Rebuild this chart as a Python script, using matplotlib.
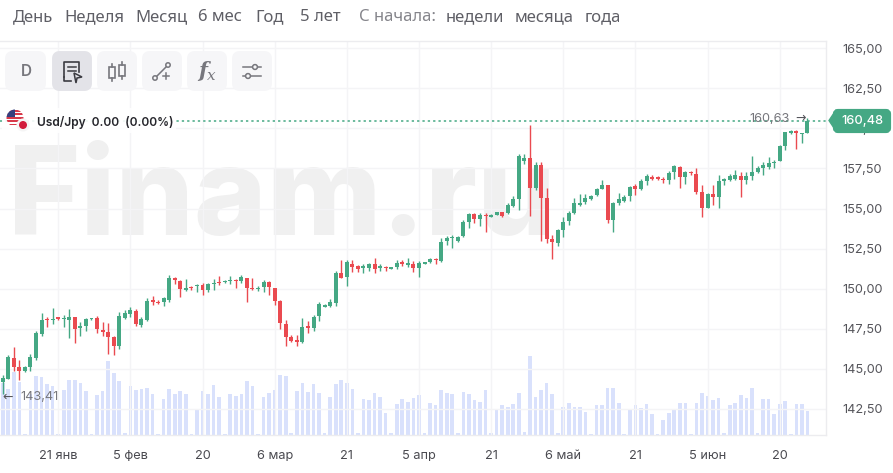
import matplotlib
matplotlib.use('Agg')
import matplotlib.pyplot as plt
from matplotlib.patches import Circle, FancyBboxPatch, Polygon, Rectangle

# Daily Usd/Jpy candles
opens = [144.15, 144.37, 145.69, 145.10, 144.85, 145.10, 145.69, 147.19, 148.10, 148.02,
         148.23, 148.10, 148.06, 148.23, 147.56, 147.67, 148.08, 148.19, 147.42, 147.29,
         146.98, 146.42, 148.19, 148.44, 148.60, 147.75, 148.06, 149.27, 149.19, 149.19,
         149.27, 150.67, 150.48, 149.94, 150.10, 150.15, 150.23, 149.90, 150.27, 150.42,
         150.42, 150.48, 150.52, 150.48, 150.65, 150.02, 150.00, 150.10, 150.44, 150.02,
         149.23, 147.81, 146.96, 146.77, 146.67, 147.65, 147.56, 148.27, 148.87, 148.94,
         149.10, 150.98, 150.73, 151.56, 151.40, 151.31, 151.29, 151.52, 151.31, 151.37,
         151.25, 151.33, 151.67, 151.46, 151.52, 151.31, 151.54, 151.69, 151.85, 151.73,
         152.98, 153.19, 152.98, 153.27, 154.19, 154.65, 154.35, 154.60, 154.50, 154.60,
         154.79, 154.73, 155.18, 155.62, 157.95, 158.18, 156.31, 157.70, 155.68, 153.08,
         152.87, 153.64, 154.20, 154.74, 155.20, 155.39, 155.60, 155.85, 156.21, 156.46,
         154.27, 155.35, 155.50, 155.77, 156.39, 156.23, 156.71, 156.96, 156.98, 156.87,
         156.77, 157.27, 157.62, 156.94, 157.27, 157.14, 156.06, 155.06, 155.90, 155.71,
         156.73, 156.77, 156.85, 157.06, 156.79, 157.06, 157.27, 157.54, 157.60, 157.85,
         157.96, 158.90, 159.69, 159.87, 159.65, 159.69]
closes = [144.44, 145.73, 145.10, 144.85, 145.10, 145.73, 147.23, 148.06, 148.02, 148.10,
          148.10, 148.19, 148.23, 147.50, 147.69, 148.10, 148.15, 147.48, 147.31, 146.98,
          146.44, 148.31, 148.48, 148.65, 147.77, 148.08, 149.23, 149.14, 149.10, 149.40,
          150.67, 150.52, 149.96, 150.06, 150.02, 150.23, 149.90, 150.27, 150.35, 150.33,
          150.48, 150.56, 150.46, 150.73, 150.04, 149.96, 150.06, 150.42, 150.10, 149.23,
          147.85, 146.98, 146.73, 146.69, 147.60, 147.56, 148.23, 149.02, 148.96, 149.15,
          150.98, 150.69, 151.65, 151.35, 151.25, 151.40, 151.52, 151.25, 151.44, 151.27,
          151.33, 151.62, 151.52, 151.60, 151.27, 151.60, 151.65, 151.83, 151.81, 152.94,
          153.17, 153.25, 153.23, 154.19, 154.65, 154.37, 154.60, 154.56, 154.58, 154.77,
          154.56, 155.21, 155.62, 158.27, 158.18, 156.31, 157.74, 155.68, 153.12, 152.93,
          153.64, 154.16, 154.74, 155.35, 155.35, 155.68, 155.81, 156.22, 156.46, 154.27,
          155.35, 155.60, 155.73, 156.35, 156.25, 156.69, 157.00, 156.85, 156.85, 156.77,
          157.23, 157.65, 156.94, 157.27, 157.19, 156.06, 155.06, 155.90, 155.71, 156.69,
          156.83, 157.02, 157.10, 156.77, 157.06, 157.31, 157.52, 157.71, 157.85, 157.90,
          158.90, 159.75, 159.87, 159.71, 159.71, 160.48]
highs = [144.58, 145.83, 146.35, 145.56, 145.19, 145.90, 147.33, 148.48, 148.23, 148.79,
         148.23, 148.33, 148.71, 148.23, 147.92, 148.19, 148.19, 148.31, 147.92, 147.85,
         147.06, 148.54, 148.65, 148.85, 148.75, 148.23, 149.44, 149.56, 149.27, 149.48,
         150.83, 150.73, 150.52, 150.58, 150.19, 150.27, 150.37, 150.35, 150.62, 150.77,
         150.52, 150.81, 150.62, 150.83, 150.67, 150.67, 150.15, 150.52, 150.48, 150.06,
         149.27, 148.02, 147.08, 147.08, 148.17, 147.98, 148.33, 149.17, 149.06, 149.33,
         151.08, 151.77, 151.81, 151.77, 151.46, 151.52, 151.62, 151.94, 151.56, 151.44,
         151.35, 151.77, 151.77, 151.94, 151.73, 151.73, 151.67, 151.92, 151.94, 153.19,
         153.31, 153.33, 153.31, 154.31, 154.73, 154.73, 154.69, 154.69, 154.65, 154.81,
         154.81, 155.35, 155.79, 158.43, 158.43, 160.20, 157.91, 157.91, 156.31, 153.33,
         153.74, 154.47, 154.85, 155.66, 155.89, 155.89, 155.83, 156.31, 156.77, 156.46,
         155.42, 155.98, 155.83, 156.39, 156.56, 156.85, 157.14, 157.08, 157.02, 156.98,
         157.35, 157.71, 157.65, 157.35, 157.35, 157.50, 156.46, 155.94, 156.46, 157.08,
         156.92, 157.14, 157.39, 157.31, 157.29, 158.27, 157.65, 157.92, 158.19, 158.06,
         158.96, 159.79, 159.90, 159.90, 159.73, 160.63]
lows = [143.41, 144.37, 144.85, 144.31, 144.77, 144.85, 145.56, 147.06, 147.60, 147.77,
        148.02, 147.60, 146.92, 146.60, 147.06, 147.35, 148.02, 147.23, 147.06, 145.94,
        145.87, 146.23, 148.12, 148.23, 147.67, 147.60, 147.96, 148.96, 149.02, 148.90,
        149.19, 150.31, 149.48, 149.85, 149.90, 149.79, 149.60, 149.79, 149.94, 150.23,
        150.35, 150.31, 150.04, 150.35, 149.19, 149.90, 149.85, 149.77, 149.60, 148.98,
        147.50, 146.40, 146.65, 146.40, 146.60, 147.23, 147.35, 147.98, 148.85, 148.85,
        148.90, 150.69, 150.19, 151.02, 151.04, 150.98, 151.12, 150.98, 151.10, 151.12,
        151.21, 151.21, 151.40, 151.35, 151.04, 150.73, 151.52, 151.60, 151.52, 151.69,
        152.73, 152.52, 152.94, 153.23, 153.81, 154.10, 153.94, 153.54, 154.44, 154.58,
        154.48, 154.65, 155.10, 154.89, 157.81, 154.52, 156.14, 152.95, 152.85, 151.83,
        152.68, 153.22, 153.95, 154.64, 155.14, 155.31, 155.56, 155.77, 156.19, 154.10,
        153.56, 155.19, 155.42, 155.44, 155.85, 156.15, 156.46, 156.77, 156.77, 156.60,
        156.52, 156.85, 156.29, 156.52, 157.08, 155.89, 154.48, 155.02, 155.25, 155.06,
        156.46, 156.71, 156.77, 155.69, 156.52, 156.77, 157.19, 157.08, 157.46, 157.52,
        157.94, 158.65, 159.65, 158.71, 159.12, 159.69]
volumes = [155, 138, 188, 158, 4, 123, 176, 173, 154, 146, 4, 135, 165, 165, 157, 131, 4, 120,
           131, 221, 187, 161, 6, 146, 135, 139, 142, 124, 4, 109, 139, 124, 131, 124, 4, 79,
           131, 124, 150, 113, 4, 124, 116, 124, 161, 146, 4, 113, 127, 135, 180, 176, 6, 131,
           156, 130, 153, 126, 6, 115, 153, 164, 156, 138, 6, 108, 104, 126, 115, 66, 6, 93,
           108, 100, 111, 119, 6, 96, 89, 134, 126, 123, 6, 130, 123, 104, 100, 134, 6, 78,
           89, 85, 93, 126, 10, 236, 115, 134, 156, 123, 6, 85, 96, 85, 85, 70, 4, 89,
           90, 142, 142, 97, 4, 75, 90, 82, 93, 64, 4, 45, 67, 79, 97, 97, 4, 97,
           127, 116, 105, 112, 7, 90, 97, 120, 112, 142, 7, 109, 109, 64, 93, 101, 4, 93,
           93, 71]

date_ticks = [10, 23, 36, 49, 62, 75, 88, 101, 114, 127, 140]
date_labels = ['21 янв', '5 фев', '20', '6 мар', '21', '5 апр', '21', '6 май', '21', '5 июн', '20']
price_ticks = [142.5, 145, 147.5, 150, 152.5, 155, 157.5, 160, 162.5, 165]
price_labels = ['142,50', '145,00', '147,50', '150,00', '152,50', '155,00', '157,50', '160,00',
                '162,50', '165,00']
periods = ['День', 'Неделя', 'Месяц', '6 мес', 'Год', '5 лет']
period_x = [13, 64, 135, 198, 255, 300]
since_labels = ['недели', 'месяца', 'года']
since_x = [446, 515, 585]

last_price = 160.48
max_price = 160.63
min_price = 143.41

GREEN = '#45a884'
RED = '#ea4a50'
GRID = '#f4f4f6'
W, H = 893, 473
plt.rcParams['font.family'] = ['Inter', 'DejaVu Sans']

fig = plt.figure(figsize=(W / 100, H / 100), dpi=100, facecolor='white')

# background layer for the watermark, pixel coordinates
bg = fig.add_axes([0, 0, 1, 1], zorder=0)
bg.set_xlim(0, W)
bg.set_ylim(H, 0)
bg.axis('off')
bg.text(8, 235, 'Finam.ru', fontsize=89, fontweight='heavy', color='#f0f0f0', va='baseline')

# plot area runs from x=0 to 826 and y=41 to 435
rect = [0, (H - 435) / H, 826 / W, (435 - 41) / H]
xlim = (-0.486, 148.34)

vol = fig.add_axes(rect, zorder=1)
vol.patch.set_alpha(0)
vol.set_xlim(xlim)
vol.set_ylim(0, 1182)
vol.axis('off')
vol.bar(range(len(volumes)), volumes, width=0.66, color='#d9e1fc')

ax = fig.add_axes(rect, zorder=2)
ax.patch.set_alpha(0)
ax.set_xlim(xlim)
ax.set_ylim(140.86, 165.46)

colors = [GREEN if c >= o else RED for o, c in zip(opens, closes)]
x = list(range(len(opens)))
ax.vlines(x, lows, highs, colors=colors, linewidth=1.0, zorder=3)
ax.bar(x, [abs(c - o) for o, c in zip(opens, closes)], bottom=[min(o, c) for o, c in zip(opens, closes)],
       width=0.72, color=colors, zorder=4)

ax.set_xticks(date_ticks)
ax.set_xticklabels(date_labels)
ax.yaxis.tick_right()
ax.set_yticks(price_ticks)
ax.set_yticklabels(price_labels)
ax.tick_params(axis='x', length=0, pad=11, labelsize=9.2, labelcolor='#4a4a50')
ax.tick_params(axis='y', length=0, pad=11.5, labelsize=9.2, labelcolor='#55555b')
ax.grid(True, color=GRID, linewidth=1.0)
ax.set_axisbelow(True)
ax.spines['left'].set_visible(False)
for side in ['right', 'bottom', 'top']:
    ax.spines[side].set_color('#ececef')
    ax.spines[side].set_linewidth(1.0)

ax.axhline(last_price, color=GREEN, linewidth=1.1, linestyle=(0, (1.5, 2)), zorder=2)

# max / min notes
ax.annotate('160,63', (len(x) - 1, max_price), xytext=(-42, -0.5), textcoords='offset points',
            fontsize=9.2, color='#77777d', va='center', ha='left', zorder=5)
ax.annotate('→', (len(x) - 1, max_price), xytext=(-9, 0), textcoords='offset points',
            fontsize=9, color='#55555b', va='center', ha='left', family='DejaVu Sans', zorder=5)
ax.annotate('←', (0, min_price), xytext=(0, -2), textcoords='offset points',
            fontsize=9, color='#55555b', va='center', ha='left', family='DejaVu Sans', zorder=5)
ax.annotate('143,41', (0, min_price), xytext=(12.5, -2), textcoords='offset points',
            fontsize=9.2, color='#77777d', va='center', ha='left', zorder=5)

# top layer: tabs, toolbar, legend, price tag in pixel coordinates
top = fig.add_axes([0, 0, 1, 1], zorder=3)
top.set_xlim(0, W)
top.set_ylim(H, 0)
top.axis('off')

for label, px in zip(periods, period_x):
    top.text(px, 17, label, fontsize=12, color='#5f5f66', va='center', family=['Noto Sans', 'DejaVu Sans'])
top.text(359, 17, 'С начала:', fontsize=12, color='#85858b', va='center', family=['Noto Sans', 'DejaVu Sans'])
for label, px in zip(since_labels, since_x):
    top.text(px, 17, label, fontsize=12, color='#5f5f66', va='center', family=['Noto Sans', 'DejaVu Sans'])

box_x = [5, 52, 97, 142, 187, 232]
box_w = [41, 40, 40, 40, 40, 40]
for bx, bw in zip(box_x, box_w):
    face = '#e3e3e8' if bx == 52 else '#f6f6f8'
    top.add_patch(FancyBboxPatch((bx + 7, 58), bw - 14, 26, boxstyle='round,pad=0,rounding_size=0',
                                 mutation_aspect=1, linewidth=10, edgecolor=face, facecolor=face,
                                 joinstyle='round'))

icon = '#77777d'
top.text(26, 72, 'D', fontsize=11, fontweight='semibold', color=icon, ha='center', va='center')

# note icon with cursor
dark = '#3c3c42'
top.plot([64, 64, 79, 79], [77, 62, 62, 72], color=dark, lw=1.2)
top.plot([64, 64, 71], [77, 81, 81], color=dark, lw=1.2)
top.plot([68, 76], [67, 67], color=dark, lw=1.1)
top.plot([68, 76], [71, 71], color=dark, lw=1.1)
top.add_patch(Polygon([[74, 73], [82, 77], [77, 78], [76, 83]], closed=True, fill=False, edgecolor=dark, lw=1.1))

# candles icon
for cx, y0, y1 in [(112, 67, 78), (122, 65, 76)]:
    top.add_patch(Rectangle((cx - 3, y0), 6, y1 - y0, fill=False, edgecolor=icon, lw=1.2))
    top.plot([cx, cx], [y0 - 3, y0], color=icon, lw=1.2)
    top.plot([cx, cx], [y1, y1 + 3], color=icon, lw=1.2)

# line tool icon
top.plot([155, 168], [78, 65], color=icon, lw=1.1)
top.add_patch(Circle((155, 78), 2.2, facecolor='#f6f6f8', edgecolor=icon, lw=1.1, zorder=4))
top.add_patch(Circle((168, 65), 2.2, facecolor='#f6f6f8', edgecolor=icon, lw=1.1, zorder=4))
top.plot([163, 169], [76, 76], color=icon, lw=1.1)
top.plot([166, 166], [73, 79], color=icon, lw=1.1)

top.text(203, 71, 'f', fontsize=15, style='italic', fontweight='bold', family='DejaVu Serif',
         color=icon, ha='center', va='center')
top.text(211, 76, 'x', fontsize=11, style='italic', family='DejaVu Serif', color=icon, ha='center', va='center')

# sliders icon
top.plot([243, 261], [67, 67], color=icon, lw=1.1)
top.plot([243, 261], [76, 76], color=icon, lw=1.1)
top.add_patch(Circle((255, 67), 2.4, facecolor='#f6f6f8', edgecolor=icon, lw=1.1, zorder=4))
top.add_patch(Circle((248, 76), 2.4, facecolor='#f6f6f8', edgecolor=icon, lw=1.1, zorder=4))

# legend row
top.add_patch(Rectangle((2, 108), 174, 25, facecolor='white', edgecolor='none', alpha=0.9))
us = Circle((15, 118), 8.5, facecolor='white', edgecolor='none')
top.add_patch(us)
for k in range(5):
    stripe = Rectangle((6, 110 + k * 3.4), 18, 1.8, facecolor='#d8394a', edgecolor='none', zorder=3)
    top.add_patch(stripe)
    stripe.set_clip_path(us)
canton = Rectangle((6, 109), 9, 8, facecolor='#35407e', edgecolor='none', zorder=4)
top.add_patch(canton)
canton.set_clip_path(us)
top.add_patch(Circle((23, 125), 6.5, facecolor='#f5f5f5', edgecolor='none', zorder=5))
top.add_patch(Circle((23, 125), 4, facecolor='#d21c3c', edgecolor='none', zorder=6))
top.text(37, 122, 'Usd/Jpy  0.00  (0.00%)', fontsize=8.6, fontweight='semibold', color='#26262c', va='center')

# last price tag
top.add_patch(FancyBboxPatch((835, 111), 54, 20, boxstyle='round,pad=0,rounding_size=3', linewidth=3,
                             edgecolor=GREEN, facecolor=GREEN, zorder=5))
top.add_patch(Polygon([[829, 120.5], [836, 110], [836, 131]], closed=True, facecolor=GREEN, edgecolor=GREEN, zorder=5))
top.text(862, 121, '160,48', fontsize=9.2, fontweight='medium', color='white', ha='center', va='center', zorder=6)

fig.savefig('out.png', dpi=100)
